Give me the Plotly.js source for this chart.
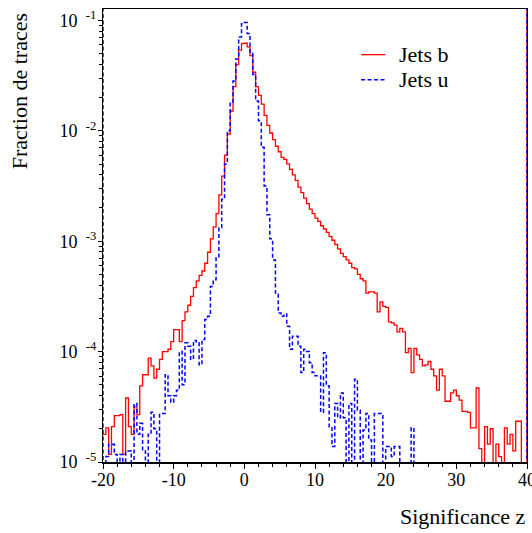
<!DOCTYPE html>
<html>
<head>
<meta charset="utf-8">
<script src="https://cdn.plot.ly/plotly-3.0.1.min.js"></script>
<style>html,body{margin:0;padding:0;background:#fff;}#chart{width:532px;height:533px;}</style>
</head>
<body>
<div id="chart"></div>
<script>
// Histogram binning: 150 bins of width 0.4 from -20 to 40
const binLow = -20;
const binHigh = 40;

// Jets b (fraction of tracks per bin)
const jetsB = [
  1.78e-5, 2.04e-5, 1.17e-5, 2.09e-5, 2.63e-5, 2.63e-5, 2.69e-5, 1.17e-5, 3.80e-5, 2.09e-5,
  1.78e-5, 3.16e-5, 2.69e-5, 4.90e-5, 6.17e-5, 6.17e-5, 8.71e-5, 7.41e-5, 5.75e-5, 6.92e-5,
  8.51e-5, 1.0e-4, 1.0e-4, 1.05e-4, 1.23e-4, 1.58e-4, 1.58e-4, 1.23e-4, 1.91e-4, 2.29e-4,
  2.63e-4, 3.16e-4, 3.80e-4, 4.37e-4, 4.90e-4, 5.37e-4, 6.31e-4, 7.94e-4, 1.05e-3, 1.35e-3,
  1.78e-3, 2.63e-3, 3.89e-3, 6.03e-3, 9.33e-3, 1.51e-2, 2.51e-2, 3.98e-2, 5.37e-2, 6.17e-2,
  6.24e-2, 5.75e-2, 4.79e-2, 3.39e-2, 2.51e-2, 2.09e-2, 1.74e-2, 1.38e-2, 1.12e-2, 9.55e-3,
  8.32e-3, 7.24e-3, 6.46e-3, 5.75e-3, 5.50e-3, 5.01e-3, 4.47e-3, 3.98e-3, 3.55e-3, 3.09e-3,
  2.75e-3, 2.45e-3, 2.19e-3, 1.95e-3, 1.78e-3, 1.62e-3, 1.51e-3, 1.38e-3, 1.29e-3, 1.20e-3,
  1.10e-3, 1.02e-3, 9.33e-4, 8.51e-4, 7.76e-4, 7.24e-4, 6.76e-4, 6.31e-4, 5.75e-4, 5.62e-4,
  5.01e-4, 4.57e-4, 4.37e-4, 3.39e-4, 3.47e-4, 3.47e-4, 3.39e-4, 2.29e-4, 2.82e-4, 2.57e-4,
  2.51e-4, 1.86e-4, 1.82e-4, 1.74e-4, 1.51e-4, 1.62e-4, 1.51e-4, 9.77e-5, 1.07e-4, 6.46e-5,
  1.07e-4, 9.33e-5, 8.51e-5, 7.41e-5, 7.59e-5, 8.13e-5, 6.92e-5, 6.03e-5, 4.47e-5, 6.92e-5,
  6.03e-5, 3.55e-5, 3.55e-5, 4.22e-5, 4.47e-5, 3.98e-5, 3.63e-5, 2.88e-5, 2.88e-5, 2.82e-5,
  2.04e-5, 2.04e-5, 4.68e-5, 1.32e-5, 0, 2.09e-5, 1.45e-5, 2.0e-5, 0, 1.45e-5,
  1.12e-5, 0, 2.04e-5, 1.45e-5, 1.78e-5, 1.26e-5, 2.34e-5, 2.34e-5, 0, 0
];

// Jets u (fraction of tracks per bin)
const jetsU = [
  0, 1.12e-5, 1.45e-5, 1.45e-5, 1.17e-5, 0, 1.17e-5, 0, 1.26e-5, 1.26e-5,
  0, 3.39e-5, 1.78e-5, 2.24e-5, 1.26e-5, 0, 1.78e-5, 2.82e-5, 2.0e-5, 0,
  2.75e-5, 2.75e-5, 6.17e-5, 3.98e-5, 3.47e-5, 3.98e-5, 4.47e-5, 1.0e-4, 5.01e-5, 1.20e-4,
  1.12e-4, 8.51e-5, 1.26e-4, 1.20e-4, 7.59e-5, 1.29e-4, 1.95e-4, 2.09e-4, 3.89e-4, 4.47e-4,
  7.08e-4, 1.32e-3, 2.40e-3, 5.01e-3, 1.0e-2, 1.78e-2, 2.82e-2, 4.47e-2, 7.08e-2, 9.33e-2,
  9.55e-2, 7.59e-2, 5.01e-2, 3.24e-2, 1.86e-2, 1.23e-2, 7.08e-3, 3.16e-3, 1.74e-3, 1.05e-3,
  6.76e-4, 3.39e-4, 2.24e-4, 2.09e-4, 2.19e-4, 1.70e-4, 1.05e-4, 1.38e-4, 1.38e-4, 1.12e-4,
  6.46e-5, 1.05e-4, 1.0e-4, 7.94e-5, 6.46e-5, 6.03e-5, 6.03e-5, 2.82e-5, 9.77e-5, 4.90e-5,
  2.09e-5, 1.38e-5, 3.39e-5, 2.51e-5, 4.22e-5, 2.51e-5, 0, 3.39e-5, 0, 5.62e-5,
  2.95e-5, 0, 1.95e-5, 2.75e-5, 1.58e-5, 0, 2.75e-5, 2.75e-5, 2.75e-5, 0,
  1.38e-5, 1.38e-5, 1.12e-5, 1.38e-5, 1.38e-5, 0, 0, 0, 0, 2.04e-5,
  0, 0, 0, 0, 0, 0, 0, 0, 0, 0,
  0, 0, 0, 0, 0, 0, 0, 0, 0, 0,
  0, 0, 0, 0, 0, 0, 0, 0, 0, 0,
  0, 0, 0, 0, 0, 0, 0, 0, 0, 0
];

const seriesNames = ['Jets b', 'Jets u'];
const yTickVals = [1e-5, 1e-4, 1e-3, 1e-2, 1e-1];
const yTickText = ['-5', '-4', '-3', '-2', '-1'].map(e => '10\u00a0\u2009<sup>' + e + '</sup>');
const xTickVals = [-20, -10, 0, 10, 20, 30, 40];
const xTickText = ['-20', '-10', '0', '10', '20', '30', '40'];

// Build histogram step outline (empty bins drop below the axis, edges rise off-scale)
function stepPath(vals, leftEdge) {
  const w = (binHigh - binLow) / vals.length;
  const FLOOR = 1e-7, TOP = 1;
  const xs = [], ys = [];
  if (leftEdge) { xs.push(binLow); ys.push(TOP); }
  for (let i = 0; i < vals.length; i++) {
    const v = vals[i] > 0 ? vals[i] : FLOOR;
    const x0 = binLow + i * w;
    xs.push(x0, x0 + w); ys.push(v, v);
  }
  xs.push(binHigh); ys.push(TOP);
  return {x: xs, y: ys};
}

const FONT = 'Liberation Serif, Times New Roman, Times, serif';
const pb = stepPath(jetsB, false);
const pu = stepPath(jetsU, true);

const traces = [
  {x: pb.x, y: pb.y, type: 'scatter', mode: 'lines', name: seriesNames[0],
   line: {color: '#ff0000', width: 1.3}, showlegend: false, hoverinfo: 'skip'},
  {x: pu.x, y: pu.y, type: 'scatter', mode: 'lines', name: seriesNames[1],
   line: {color: '#0000ff', width: 1.5, dash: '4px,2.5px'}, showlegend: false, hoverinfo: 'skip'}
];

const layout = {
  width: 532, height: 533,
  margin: {l: 103, r: 5, t: 9, b: 71, pad: 0},
  paper_bgcolor: '#ffffff', plot_bgcolor: '#ffffff',
  font: {family: FONT, size: 18, color: '#000'},
  showlegend: false,
  xaxis: {
    range: [binLow, binHigh], tickvals: xTickVals, ticktext: xTickText,
    ticks: 'outside', ticklen: 5, tickwidth: 1, tickcolor: '#000',
    minor: {dtick: 2, ticks: 'outside', ticklen: 3, tickcolor: '#000', showgrid: false},
    showline: true, linecolor: '#000', linewidth: 1.5, mirror: true,
    showgrid: false, zeroline: false, ticklabelstandoff: -4, ticklabeloverflow: 'allow',
    tickfont: {family: FONT, size: 18, color: '#000'}
  },
  yaxis: {
    type: 'log', range: [-5, -0.897], tickvals: yTickVals, ticktext: yTickText,
    ticks: 'outside', ticklen: 4, tickwidth: 1, tickcolor: '#000',
    minor: {dtick: 'D1', ticks: 'outside', ticklen: 3, tickcolor: '#000', showgrid: false},
    showline: true, linecolor: '#000', linewidth: 1.2, mirror: true,
    showgrid: false, zeroline: false, ticklabelstandoff: -2, ticklabeloverflow: 'allow',
    tickfont: {family: FONT, size: 18, color: '#000'}
  },
  shapes: [
    {type: 'line', xref: 'paper', yref: 'paper', x0: 0.6086, x1: 0.6653, y0: 0.8992, y1: 0.8992,
     line: {color: '#ff0000', width: 1.3}},
    {type: 'line', xref: 'paper', yref: 'paper', x0: 0.6086, x1: 0.6653, y0: 0.8440, y1: 0.8440,
     line: {color: '#0000ff', width: 1.5, dash: '4px,2.5px'}}
  ],
  annotations: [
    {text: seriesNames[0], xref: 'paper', yref: 'paper', x: 0.6934, y: 0.8992,
     xanchor: 'left', yanchor: 'middle', showarrow: false, font: {family: FONT, size: 22, color: '#000'}},
    {text: seriesNames[1], xref: 'paper', yref: 'paper', x: 0.6934, y: 0.8440,
     xanchor: 'left', yanchor: 'middle', showarrow: false, font: {family: FONT, size: 22, color: '#000'}},
    {text: 'Significance z', xref: 'paper', yref: 'paper', x: 1.0, y: -0.120,
     xanchor: 'right', yanchor: 'middle', showarrow: false, font: {family: FONT, size: 22, color: '#000'}},
    {text: 'Fraction de traces', xref: 'paper', yref: 'paper', x: -0.196, y: 0.818,
     xanchor: 'center', yanchor: 'middle', textangle: -90, showarrow: false,
     font: {family: FONT, size: 22, color: '#000'}}
  ]
};

Plotly.newPlot('chart', traces, layout, {staticPlot: true, displayModeBar: false});
</script>
</body>
</html>
